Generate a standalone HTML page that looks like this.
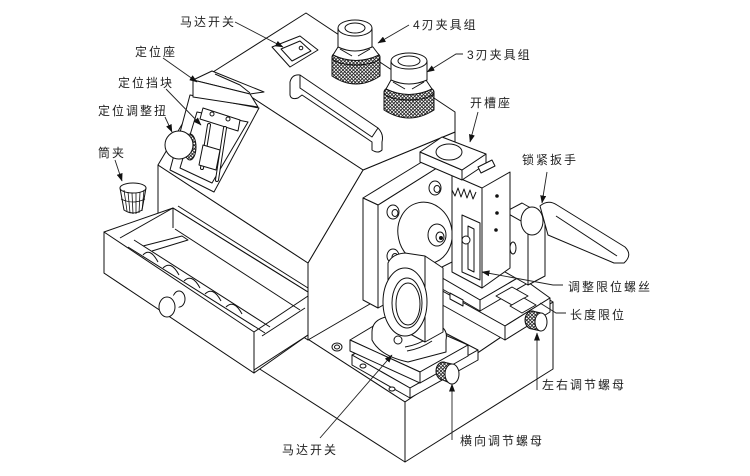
<!DOCTYPE html>
<html><head><meta charset="utf-8">
<style>
html,body{margin:0;padding:0;background:#fff;width:750px;height:476px;overflow:hidden}
svg{display:block}
text{font-family:"Liberation Sans","Noto Sans CJK SC",sans-serif;font-size:12px;fill:#222;letter-spacing:2px}
</style></head>
<body>
<svg width="750" height="476" viewBox="0 0 750 476" xmlns="http://www.w3.org/2000/svg">
<defs>
<pattern id="kn" width="3.5" height="3.5" patternUnits="userSpaceOnUse"><rect width="3.5" height="3.5" fill="#fff"/><path d="M0,0L3.5,3.5M3.5,0L0,3.5" stroke="#222" stroke-width="0.8"/></pattern>
<marker id="ar" markerWidth="8" markerHeight="6" refX="7.5" refY="3" orient="auto" markerUnits="userSpaceOnUse"><path d="M0,0L8,3L0,6Z" fill="#111"/></marker>
</defs>

<g fill="#fff" stroke="#111" stroke-width="1" stroke-linejoin="round">
<!-- BASE -->
<path d="M255,305 L405,402 L553,302 L470,250 L300,290Z"/>
<path d="M255,305 L405,402 L405,462 L255,366Z"/>
<path d="M405,402 L553,302 L553,369 L405,462Z"/>

<!-- HOOD -->
<path d="M308,263 L363,170 L455,132 L455,255 L363,308 L308,340Z"/>
<path d="M158,165 L308,263 L308,340 L158,242Z"/>
<path d="M213,72 L306,13 L455,112 L455,132 L363,170Z"/>
<path d="M213,72 L363,170 L308,263 L158,165Z"/>

<!-- knob panel on chamfer -->
<path d="M190,95 L259,108 L214,192 L170,170Z"/>
<path d="M197,112 L248,122 L212,183 L180,168Z" fill="none"/>
<path d="M203,108 L240,120 L238,131 L200,119Z"/>
<circle cx="212" cy="114" r="2" fill="none"/>
<circle cx="228" cy="119" r="2" fill="none"/>
<path d="M193,80 L212,71 L264,92 L250,94Z"/>
<path d="M193,80 L250,94 L258,107 L193,97Z"/>
<path d="M215,74 L240,85 L250,93" fill="none"/>
<line x1="209" y1="125" x2="202" y2="168" stroke-width="4" stroke-linecap="round"/>
<line x1="209" y1="125" x2="202" y2="168" stroke="#fff" stroke-width="2" stroke-linecap="round"/>
<line x1="225" y1="128" x2="217" y2="180" stroke-width="4" stroke-linecap="round"/>
<line x1="225" y1="128" x2="217" y2="180" stroke="#fff" stroke-width="2" stroke-linecap="round"/>
<path d="M203,145 L220,150 L216,170 L199,165Z"/>
<ellipse cx="190" cy="147" rx="6" ry="13" fill="url(#kn)"/>
<circle cx="179" cy="145" r="14"/>

<!-- top switch -->
<path d="M272,47 L300,36 L318,50 L290,67Z"/>
<path d="M281,49 L300,41 L311,51 L292,61Z"/>
<circle cx="301" cy="48" r="1.8" fill="none"/>

<!-- handle -->
<path d="M290,82 Q292,74 300,75 L378,128 Q384,134 382,142 L382,150 Q378,154 372,150 L372,142 L302,95 L298,98 Q291,100 290,95Z"/>
<path d="M300,75 L300,88 L372,137 L378,128" fill="none"/>

<!-- chuck 4 -->
<path d="M332,57 L332,76 Q356,92 380,76 L380,57Z" fill="url(#kn)"/>
<ellipse cx="356" cy="57" rx="24" ry="8" fill="url(#kn)"/>
<path d="M338,47 L333,55 Q356,66 379,55 L373,47Z"/>
<path d="M338,28 L338,47 Q355,55 372,47 L372,28Z"/>
<ellipse cx="355" cy="28" rx="17" ry="8"/>
<ellipse cx="355" cy="28" rx="10" ry="5"/>
<path d="M340,49 L352,56 M370,49 L358,56" fill="none"/>

<!-- chuck 3 -->
<path d="M384,92 L384,110 Q409,126 434,110 L434,92Z" fill="url(#kn)"/>
<ellipse cx="409" cy="92" rx="25" ry="8" fill="url(#kn)"/>
<path d="M391,80 L386,89 Q409,100 432,89 L426,80Z"/>
<path d="M391,61 L391,80 Q409,88 427,80 L427,61Z"/>
<ellipse cx="409" cy="61" rx="18" ry="8"/>
<ellipse cx="409" cy="61" rx="11" ry="5"/>
<path d="M393,82 L405,89 M424,82 L412,89" fill="none"/>

<!-- collet -->
<path d="M120,188 L124,210 Q133,216 142,210 L146,188Z" fill="#fff"/>
<ellipse cx="133" cy="188" rx="13" ry="5"/>
<path d="M124,190 L127,211 M128,192 L130,213 M132,193 L133,214 M136,193 L136,214 M140,192 L139,213 M144,190 L142,211 M121,199 Q133,205 145,199" fill="none" stroke-width="0.8"/>

<!-- DRAWER -->
<path d="M104,232 L173,208 L308,292 L308,335 L254,373 L104,273Z"/>
<path d="M120,238 L173,208 L173,228" fill="none"/>
<path d="M173,208 L308,292" fill="none"/>
<path d="M178,206 L308,288" fill="none"/>
<path d="M175,229 L300,310" fill="none"/>
<path d="M254,332 L308,296" fill="none"/>
<path d="M262,336 L305,308" fill="none"/>
<path d="M254,370 L308,335" fill="none"/>
<path d="M128,247 L265,333 M134,240 L270,327" fill="none"/>
<path d="M143,255 Q150,247 158,262 M163,268 Q171,260 179,275 M184,281 Q192,273 200,288 M205,294 Q213,286 221,301 M226,307 Q234,299 242,314" fill="none"/>
<path d="M143,246 L182,236 L188,240 L152,251" fill="none"/>
<path d="M104,232 L254,332 L254,373 L104,273Z"/>
<ellipse cx="179" cy="299" rx="6" ry="8"/>
<path d="M168,300 L178,292 L180,306 L172,312Z" stroke="none"/>
<ellipse cx="167" cy="307" rx="8" ry="10"/>

<!-- MOUNT PLATE -->
<path d="M378,205 L440,166 L455,172 L455,265 L378,308Z"/>
<path d="M363,198 L425,160 L440,166 L378,205Z"/>
<path d="M363,198 L378,205 L378,308 L363,300Z"/>
<!-- bolts -->
<ellipse cx="435" cy="188" rx="6" ry="7"/><ellipse cx="437" cy="189" rx="3" ry="3.5"/>
<ellipse cx="393" cy="212" rx="6" ry="7"/><ellipse cx="395" cy="213" rx="3" ry="3.5"/>
<ellipse cx="393" cy="256" rx="6" ry="7"/><ellipse cx="395" cy="257" rx="3" ry="3.5"/>
<!-- wheel -->
<ellipse cx="425" cy="233" rx="27" ry="31" transform="rotate(-12 425 233)"/>
<ellipse cx="437" cy="235" rx="9" ry="11"/>
<ellipse cx="440" cy="237" rx="4" ry="5"/>
<circle cx="441" cy="238" r="1.5" fill="#111"/>

<!-- rail + slide table -->
<path d="M437,288 L505,326 L550,298 L500,262Z"/>
<path d="M437,288 L505,326 L505,340 L437,302Z"/>
<path d="M505,326 L550,298 L550,312 L505,340Z"/>
<path d="M432,272 L480,300 L545,262 L500,238Z"/>
<path d="M432,272 L480,300 L480,311 L432,283Z"/>
<path d="M480,300 L545,262 L545,273 L480,311Z"/>
<path d="M496,296 L512,287 L528,296 L512,305Z"/>
<path d="M510,306 L524,298 L536,305 L522,313Z"/>
<path d="M450,293 L463,300 L463,306 L450,299Z"/>

<!-- right block + handle -->
<path d="M505,212 L522,203 L545,216 L528,225Z"/>
<path d="M505,212 L528,225 L528,285 L505,272Z"/>
<path d="M528,225 L545,216 L545,276 L528,285Z"/>
<ellipse cx="513" cy="248" rx="3" ry="6"/>
<path d="M540,206 Q548,199 557,205 L625,247 Q633,255 624,263 L614,263 L548,235Z"/>
<path d="M556,216 L617,256" fill="none"/>
<ellipse cx="532" cy="221" rx="11" ry="14"/>

<!-- post -->
<path d="M452,175 L482,188 L482,288 L452,272Z"/>
<path d="M482,188 L510,172 L510,268 L482,288Z"/>
<circle cx="497" cy="196" r="1.3" fill="#111"/>
<circle cx="497" cy="213" r="1.3" fill="#111"/>
<circle cx="496" cy="230" r="1.3" fill="#111"/>
<path d="M462,215 L480,223 L480,280 L462,272Z"/>
<path d="M468,226 L474,229 L474,272 L468,269Z"/>
<circle cx="466" cy="240" r="4"/>
<path d="M452,190 L455,196 L458,188 L461,197 L464,189 L467,198 L470,190 L473,199 L476,192" fill="none"/>
<!-- slot seat -->
<path d="M420,162 L462,180 L486,164 L486,154 L462,170 L420,152Z"/>
<path d="M420,152 L442,137 L486,154 L462,170Z"/>
<path d="M462,170 L462,180" fill="none"/>
<ellipse cx="449" cy="152" rx="13" ry="8"/>
<path d="M478,167 L492,160 L495,166 L481,173Z"/>

<!-- PIVOT STACK -->
<path d="M352,355 L410,388 L478,350 L420,320Z"/>
<path d="M352,355 L410,388 L410,398 L352,365Z"/>
<path d="M410,388 L478,350 L478,360 L410,398Z"/>
<path d="M350,340 L395,313 L468,345 L420,372Z"/>
<path d="M350,340 L420,372 L420,383 L350,351Z"/>
<path d="M420,372 L468,345 L468,356 L420,383Z"/>
<path d="M372,332 Q372,318 392,316 L440,326 Q448,330 446,340 L446,352 L408,362 Q380,356 372,340Z"/>
<circle cx="398" cy="340" r="4"/>
<path d="M405,347 Q418,345 430,337 M407,351 Q420,349 432,341" fill="none"/>
<path d="M388,263 Q392,254 405,253 L425,256 L443,268 L443,332 L425,342 L388,322Z"/>
<path d="M425,256 L425,342" fill="none"/>
<ellipse cx="405" cy="302" rx="22" ry="34"/>
<ellipse cx="407" cy="303" rx="15" ry="25"/>
<ellipse cx="408" cy="304" rx="12" ry="21"/>
<ellipse cx="337" cy="347" rx="5" ry="4"/><ellipse cx="337" cy="347" rx="2.5" ry="2"/>
<ellipse cx="363" cy="366" rx="3" ry="2"/>
<ellipse cx="392" cy="389" rx="3" ry="2"/>

<!-- knobs -->
<ellipse cx="532" cy="320" rx="7" ry="9" fill="url(#kn)"/>
<path d="M532,311 L541,313 L541,331 L532,329" fill="url(#kn)"/>
<ellipse cx="541" cy="322" rx="6" ry="9"/>
<ellipse cx="443" cy="371" rx="7" ry="9" fill="url(#kn)"/>
<path d="M443,362 L452,364 L452,384 L443,380" fill="url(#kn)"/>
<ellipse cx="452" cy="374" rx="7" ry="10"/>
</g>

<!-- LEADERS -->
<g stroke="#222" stroke-width="0.9" fill="none">
<path d="M235,22 L283,47" marker-end="url(#ar)"/>
<path d="M163,58 L197,82" marker-end="url(#ar)"/>
<path d="M166,89 L201,125" marker-end="url(#ar)"/>
<path d="M165,117 L172,132" marker-end="url(#ar)"/>
<path d="M115,160 L122,181" marker-end="url(#ar)"/>
<path d="M409,25 L378,43" marker-end="url(#ar)"/>
<path d="M463,54 L456,54 L427,72" marker-end="url(#ar)"/>
<path d="M478,112 L470,142" marker-end="url(#ar)"/>
<path d="M547,172 L542,203" marker-end="url(#ar)"/>
<path d="M563,285 L553,285 L482,272" marker-end="url(#ar)"/>
<path d="M566,313 L556,313 L540,303"/>
<path d="M537,390 L537,333" marker-end="url(#ar)"/>
<path d="M452,440 L452,384" marker-end="url(#ar)"/>
<path d="M320,438 L392,355" marker-end="url(#ar)"/>
</g>

<!-- LABELS -->
<text x="180" y="26">马达开关</text>
<text x="135" y="56">定位座</text>
<text x="118" y="87">定位挡块</text>
<text x="98" y="115">定位调整扭</text>
<text x="98" y="157">筒夹</text>
<text x="413" y="29">4刃夹具组</text>
<text x="467" y="59">3刃夹具组</text>
<text x="470" y="107">开槽座</text>
<text x="522" y="164">锁紧扳手</text>
<text x="568" y="291">调整限位螺丝</text>
<text x="570" y="319">长度限位</text>
<text x="542" y="389">左右调节螺母</text>
<text x="460" y="445">横向调节螺母</text>
<text x="282" y="454">马达开关</text>
</svg>
</body></html>
